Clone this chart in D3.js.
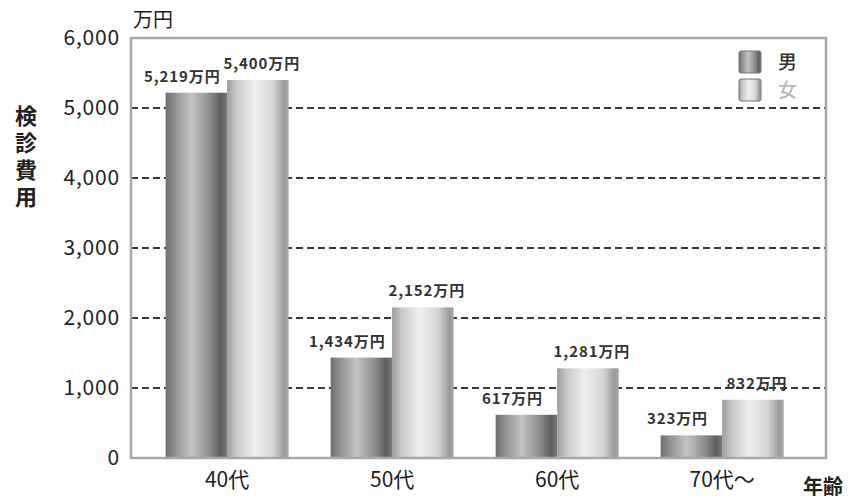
<!DOCTYPE html>
<html>
<head>
<meta charset="utf-8">
<script src="https://cdn.jsdelivr.net/npm/d3@7/dist/d3.min.js"></script>
<style>
  html, body { margin: 0; padding: 0; background: #fff; }
  svg { display: block; }
  text { font-family: "Noto Sans CJK JP", "Noto Sans", sans-serif; }
</style>
</head>
<body>
<svg id="chart" width="851" height="500"></svg>
<script>
// Age groups and examination cost per group (unit: 万円)
const categories = ["40代", "50代", "60代", "70代～"];
const seriesNames = ["男", "女"];
const maleValues = [5219, 1434, 617, 323];
const femaleValues = [5400, 2152, 1281, 832];
const yTicks = [0, 1000, 2000, 3000, 4000, 5000, 6000];
const gridTicks = [1000, 2000, 3000, 4000, 5000];

const svg = d3.select("#chart");
const plot = { left: 131, right: 826, top: 38, bottom: 458 };

const rows = categories.map((c, i) => ({ cat: c, values: [maleValues[i], femaleValues[i]] }));

const x0 = d3.scaleBand()
  .domain(categories)
  .range([plot.left, plot.right])
  .paddingInner(0.2545)
  .paddingOuter(0.233)
  .align(0.45);

const x1 = d3.scaleBand()
  .domain(seriesNames)
  .range([0, x0.bandwidth()])
  .padding(0);

const y = d3.scaleLinear()
  .domain([0, 6000])
  .range([plot.bottom, plot.top]);

// Cylinder-like horizontal gradients for the two series
const defs = svg.append("defs");
const gradStops = {
  "男": [[0, "#6e6e6e"], [0.12, "#8a8a8a"], [0.42, "#c4c4c4"], [0.72, "#8c8c8c"], [0.9, "#5e5e5e"], [1, "#7a7a7a"]],
  "女": [[0, "#9c9c9c"], [0.15, "#c8c8c8"], [0.45, "#f0f0f0"], [0.75, "#d4d4d4"], [0.93, "#9a9a9a"], [1, "#a8a8a8"]]
};
seriesNames.forEach((s, i) => {
  const g = defs.append("linearGradient")
    .attr("id", "grad" + i)
    .attr("x1", "0%").attr("x2", "100%").attr("y1", "0%").attr("y2", "0%");
  gradStops[s].forEach(([o, c]) => g.append("stop").attr("offset", o).attr("stop-color", c));
});

// Dashed gridlines
svg.append("g")
  .selectAll("line")
  .data(gridTicks)
  .join("line")
  .attr("x1", plot.left)
  .attr("x2", plot.right)
  .attr("y1", d => y(d))
  .attr("y2", d => y(d))
  .attr("stroke", "#3a3a3a")
  .attr("stroke-width", 2)
  .attr("stroke-dasharray", "7 4");

// Bars
const groups = svg.append("g")
  .selectAll("g")
  .data(rows)
  .join("g")
  .attr("transform", d => `translate(${x0(d.cat)},0)`);

groups.selectAll("rect")
  .data(d => d.values.map((v, i) => ({ series: seriesNames[i], idx: i, value: v })))
  .join("rect")
  .attr("x", d => x1(d.series))
  .attr("width", x1.bandwidth())
  .attr("y", d => y(d.value))
  .attr("height", d => y(0) - y(d.value))
  .attr("fill", d => `url(#grad${d.idx})`);

// Value labels
const labelShift = [-14, 4];
groups.selectAll("text.val")
  .data(d => d.values.map((v, i) => ({ series: seriesNames[i], idx: i, value: v })))
  .join("text")
  .attr("class", "val")
  .attr("x", d => x1(d.series) + x1.bandwidth() / 2 + labelShift[d.idx])
  .attr("y", d => y(d.value) - 11)
  .attr("text-anchor", "middle")
  .attr("font-size", 15)
  .attr("font-weight", 700)
  .attr("letter-spacing", 0.9)
  .attr("fill", "#333")
  .text(d => d3.format(",")(d.value) + "万円");

// Plot frame
svg.append("rect")
  .attr("x", plot.left)
  .attr("y", plot.top)
  .attr("width", plot.right - plot.left)
  .attr("height", plot.bottom - plot.top)
  .attr("fill", "none")
  .attr("stroke", "#a8a8a8")
  .attr("stroke-width", 2.5);

// Y axis tick labels
const yAxis = d3.axisLeft(y)
  .tickValues(yTicks)
  .tickFormat(d3.format(","))
  .tickSize(0)
  .tickPadding(11);
const gy = svg.append("g")
  .attr("transform", `translate(${plot.left},0)`)
  .call(yAxis);
gy.select(".domain").remove();
gy.selectAll("text")
  .attr("font-size", 21)
  .attr("letter-spacing", 0.8)
  .attr("fill", "#222")
  .attr("font-family", "'DejaVu Sans', 'Noto Sans', sans-serif");

// X axis category labels
const xAxis = d3.axisBottom(x0).tickSize(0).tickPadding(14);
const gx = svg.append("g")
  .attr("transform", `translate(0,${plot.bottom})`)
  .call(xAxis);
gx.select(".domain").remove();
gx.selectAll("text")
  .attr("font-size", 21)
  .attr("fill", "#222")
  .attr("font-family", "'DejaVu Sans', 'Noto Sans CJK JP', sans-serif");

// Unit label and axis titles
svg.append("text")
  .attr("x", 133).attr("y", 27)
  .attr("font-size", 20)
  .attr("fill", "#222")
  .text("万円");

svg.append("text")
  .attr("x", 26)
  .attr("y", 105)
  .attr("font-size", 22)
  .attr("font-weight", 700)
  .attr("fill", "#222")
  .style("writing-mode", "vertical-rl")
  .style("text-orientation", "upright")
  .attr("letter-spacing", 5)
  .text("検診費用");

svg.append("text")
  .attr("x", 823).attr("y", 494)
  .attr("text-anchor", "middle")
  .attr("font-size", 20)
  .attr("font-weight", 700)
  .attr("fill", "#222")
  .text("年齢");

// Legend
const legendColors = ["#333", "#b8b8b8"];
const legend = svg.append("g")
  .selectAll("g")
  .data(seriesNames)
  .join("g")
  .attr("transform", (d, i) => `translate(739,${51 + i * 28})`);
legend.append("rect")
  .attr("width", 22).attr("height", 22)
  .attr("rx", 2)
  .attr("fill", (d, i) => `url(#grad${i})`)
  .attr("stroke", "#777")
  .attr("stroke-width", 1);
legend.append("text")
  .attr("x", 39).attr("y", 18)
  .attr("font-size", 19)
  .attr("font-weight", 500)
  .attr("fill", (d, i) => legendColors[i])
  .text(d => d);
</script>
</body>
</html>
